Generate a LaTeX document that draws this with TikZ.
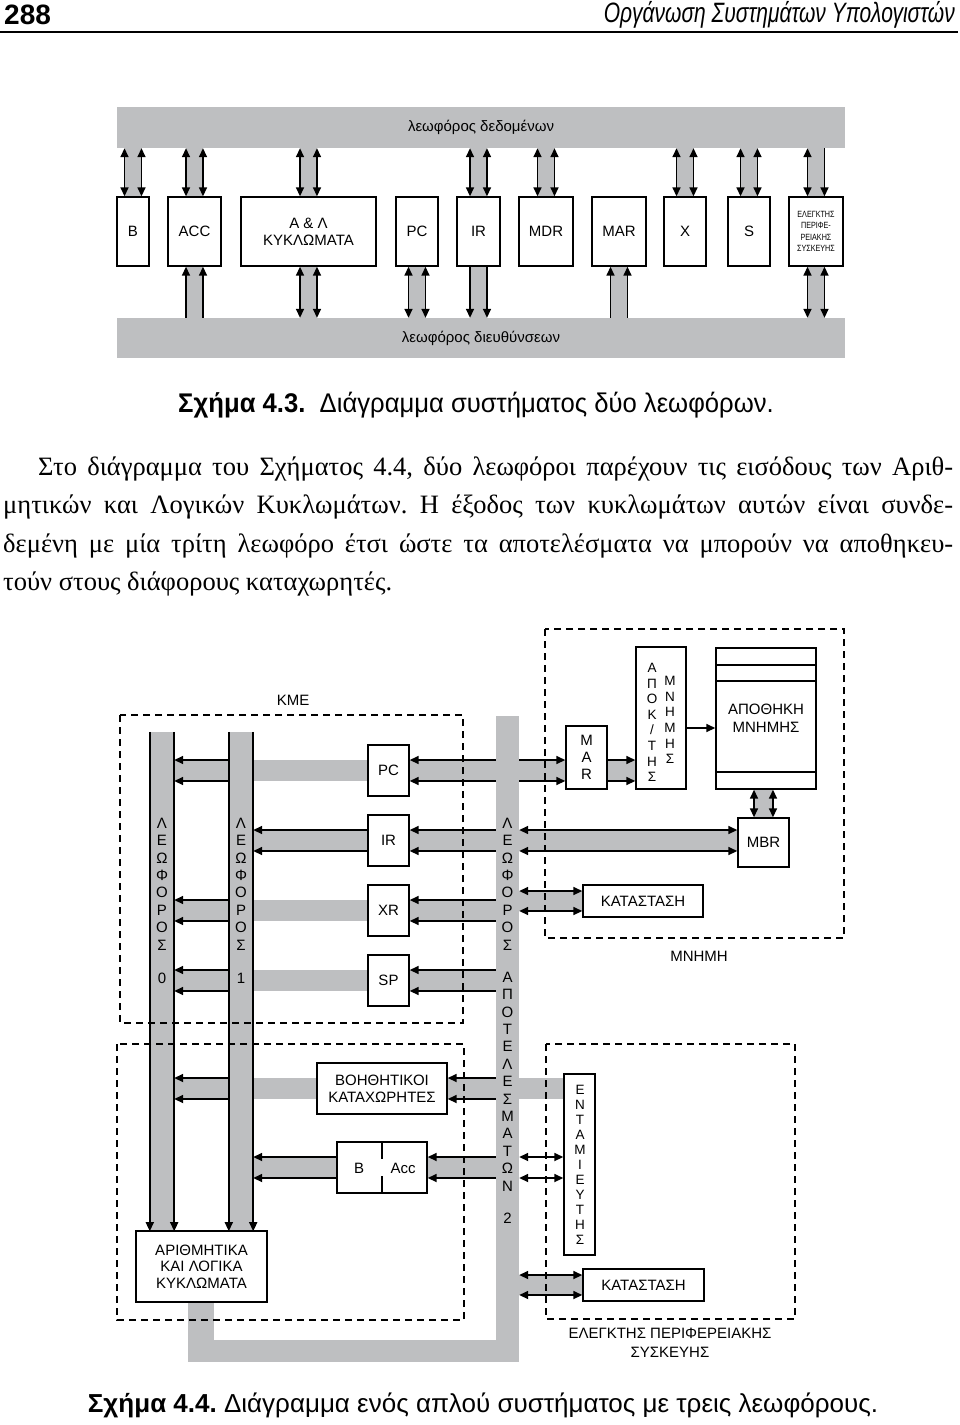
\documentclass[tikz,border=0pt]{standalone}
\usepackage{fontspec}
\setmainfont{Liberation Serif}
\setsansfont{Liberation Sans}
\usetikzlibrary{arrows.meta, calc, backgrounds}
\definecolor{busgray}{RGB}{190,191,193}
\newcommand{\figfont}{\sffamily\fontsize{15}{17}\selectfont}
\newcommand{\stackfont}{\sffamily\fontsize{15}{17.4}\selectfont}
\newcommand{\apokfont}{\sffamily\fontsize{13.5}{15.6}\selectfont}
\newcommand{\bodyfont}{\rmfamily\fontsize{26.5}{30}\selectfont}
\frenchspacing
\tikzset{
	regbox/.style={rectangle, draw=black, fill=white, line width=1.4pt, inner sep=0pt, align=center, font=\figfont},
	busbar/.style={rectangle, fill=busgray, inner sep=0pt},
	wire/.style={line width=1.6pt, draw=black},
	dashframe/.style={draw=black, line width=1.4pt, dash pattern=on 7pt off 5pt},
	stacklabel/.style={inner sep=0pt, align=center, font=\stackfont},
	plain/.style={inner sep=0pt, align=center, font=\figfont},
}

\begin{document}
\begin{tikzpicture}[x=1pt, y=-1pt, >={Triangle[length=9pt,width=8pt]}]
	\useasboundingbox (0,0) rectangle (960,1425);
	\begin{scope}[on background layer]
		\fill[white] (0,0) rectangle (960,1425);
	\end{scope}
	% page head
	\node[anchor=west, inner sep=0pt, font=\sffamily\bfseries\fontsize{28}{30}\selectfont] (pagenum) at (4,15) {288};
	\node[anchor=east, inner sep=0pt, font=\sffamily\itshape\fontsize{28}{30}\selectfont] (runhead) at (955,15) {\scalebox{0.75}[1]{Οργάνωση Συστημάτων Υπολογιστών}};
	\draw[line width=2pt] (0,32) -- (958,32);

	% figure 4.3
	\node[busbar, minimum width=728pt, minimum height=41pt, font=\figfont] (dbus) at (481,127.5) {λεωφόρος δεδομένων};
	\node[busbar, minimum width=728pt, minimum height=40pt, font=\figfont] (abus) at (481,338) {λεωφόρος διευθύνσεων};
	\node[regbox, minimum width=32pt, minimum height=69pt] (b1) at (133,231.5) {B};
	\node[regbox, minimum width=53pt, minimum height=69pt] (acc1) at (194.5,231.5) {ACC};
	\node[regbox, minimum width=135pt, minimum height=69pt] (alu1) at (308.5,231.5) {Α \& Λ\\ΚΥΚΛΩΜΑΤΑ};
	\node[regbox, minimum width=42pt, minimum height=69pt] (pc1) at (417,231.5) {PC};
	\node[regbox, minimum width=43pt, minimum height=69pt] (ir1) at (478.5,231.5) {IR};
	\node[regbox, minimum width=54pt, minimum height=69pt] (mdr1) at (546,231.5) {MDR};
	\node[regbox, minimum width=54pt, minimum height=69pt] (mar1) at (619,231.5) {MAR};
	\node[regbox, minimum width=42pt, minimum height=69pt] (x1) at (685,231.5) {X};
	\node[regbox, minimum width=42pt, minimum height=69pt] (s1) at (749,231.5) {S};
	\node[regbox, minimum width=54pt, minimum height=69pt, font=\sffamily\fontsize{9}{11.5}\selectfont] (el1) at (816,231.5) {\scalebox{0.8}[1]{ΕΛΕΓΚΤΗΣ}\\\scalebox{0.8}[1]{ΠΕΡΙΦΕ-}\\\scalebox{0.8}[1]{ΡΕΙΑΚΗΣ}\\\scalebox{0.8}[1]{ΣΥΣΚΕΥΗΣ}};
	\foreach \n in {b1,acc1,alu1,pc1,ir1,mdr1,mar1,x1,s1,el1}{
		\path (\n.north) ++(-8.5,0) coordinate (\n-nl) (\n.north) ++(8.5,0) coordinate (\n-nr)
			(\n.south) ++(-8.5,0) coordinate (\n-sl) (\n.south) ++(8.5,0) coordinate (\n-sr);
	}
	\begin{scope}[on background layer]
		\foreach \n in {b1,acc1,alu1,ir1,mdr1,x1,s1,el1}{\fill[busgray] (\n-nl) rectangle (\n-nr |- dbus.south);}
		\foreach \n in {acc1,alu1,pc1,ir1,mar1,el1}{\fill[busgray] (\n-sl) rectangle (\n-sr |- abus.north);}
	\end{scope}
	\foreach \n in {b1,acc1,alu1,ir1,mdr1,x1,s1}{
		\draw[wire,<->] (\n-nl) -- (\n-nl |- dbus.south);
		\draw[wire,<->] (\n-nr) -- (\n-nr |- dbus.south);
	}
	\draw[wire,<->] (el1-nl) -- (el1-nl |- dbus.south);
	\draw[wire,<-] (el1-nr) -- (el1-nr |- dbus.south);
	\foreach \n/\t in {acc1/<-, alu1/<->, pc1/<->, ir1/->, mar1/<-, el1/<->}{
		\draw[wire,\t] (\n-sl) -- (\n-sl |- abus.north);
		\draw[wire,\t] (\n-sr) -- (\n-sr |- abus.north);
	}
	\node[font=\sffamily\fontsize{27}{30}\selectfont, inner sep=0pt] (cap1) at (476,405) {\scalebox{0.95}[1]{\textbf{Σχήμα 4.3.}\ \ Διάγραμμα συστήματος δύο λεωφόρων.}};

	% text
	\node[anchor=base west, inner sep=0pt, font=\bodyfont] (par1) at (38,475) {\makebox[915pt][s]{Στο διάγραμμα του Σχήματος 4.4, δύο λεωφόροι παρέχουν τις εισόδους των Αριθ-}};
	\node[anchor=base west, inner sep=0pt, font=\bodyfont] (par2) at (3,513.5) {\makebox[950pt][s]{μητικών και Λογικών Κυκλωμάτων. Η έξοδος των κυκλωμάτων αυτών είναι συνδε-}};
	\node[anchor=base west, inner sep=0pt, font=\bodyfont] (par3) at (3,552) {\makebox[950pt][s]{δεμένη με μία τρίτη λεωφόρο έτσι ώστε τα αποτελέσματα να μπορούν να αποθηκευ-}};
	\node[anchor=base west, inner sep=0pt, font=\bodyfont] (par4) at (3,590.5) {τούν στους διάφορους καταχωρητές.};

	% figure 4.4
	\node[busbar, minimum width=24pt, minimum height=499pt] (bus0) at (162,981.5) {};
	\node[busbar, minimum width=24pt, minimum height=499pt] (bus1) at (241,981.5) {};
	\node[busbar, minimum width=23pt, minimum height=646pt] (bus2) at (507.5,1039) {};
	\node[regbox, minimum width=41pt, minimum height=51pt] (pc2) at (388.5,770.5) {PC};
	\node[regbox, minimum width=41pt, minimum height=51pt] (ir2) at (388.5,840.5) {IR};
	\node[regbox, minimum width=41pt, minimum height=51pt] (xr2) at (388.5,910.5) {XR};
	\node[regbox, minimum width=41pt, minimum height=51pt] (sp2) at (388.5,980.5) {SP};
	\node[regbox, minimum width=130pt, minimum height=51pt] (aux) at (382,1088.5) {ΒΟΗΘΗΤΙΚΟΙ\\ΚΑΤΑΧΩΡΗΤΕΣ};
	\node[regbox, minimum width=90pt, minimum height=51pt] (bacc) at (382,1167.5) {};
	\node[plain] (bacc-b) at (359,1168) {B};
	\node[plain] (bacc-acc) at (403,1168) {Acc};
	\node[regbox, minimum width=131pt, minimum height=71pt, font=\sffamily\fontsize{15}{16.7}\selectfont] (alu2) at (201.5,1266.5) {ΑΡΙΘΜΗΤΙΚΑ\\ΚΑΙ ΛΟΓΙΚΑ\\ΚΥΚΛΩΜΑΤΑ};
	\node[regbox, minimum width=41pt, minimum height=63pt, font=\sffamily\fontsize{15}{17}\selectfont] (mar2) at (586.5,757.5) {M\\A\\R};
	\node[regbox, minimum width=50pt, minimum height=142pt] (apok) at (661,718) {};
	\node[stacklabel, font=\apokfont] (apok-l) at (652,722.5) {Α\\Π\\Ο\\Κ\\/\\Τ\\Η\\Σ};
	\node[stacklabel, font=\apokfont] (apok-r) at (670,720) {Μ\\Ν\\Η\\Μ\\Η\\Σ};
	\node[regbox, minimum width=100pt, minimum height=141pt, font=\sffamily\fontsize{15}{18}\selectfont] (store) at (766,718.5) {ΑΠΟΘΗΚΗ\\ΜΝΗΜΗΣ};
	\node[regbox, minimum width=51pt, minimum height=49pt] (mbr) at (763.5,842.5) {MBR};
	\node[regbox, minimum width=120pt, minimum height=32pt] (statm) at (643,901) {ΚΑΤΑΣΤΑΣΗ};
	\node[regbox, minimum width=31pt, minimum height=181pt] (entam) at (579.5,1164.5) {};
	\node[stacklabel, font=\sffamily\fontsize{13.5}{15}\selectfont] (entam-l) at (580,1164.5) {Ε\\Ν\\Τ\\Α\\Μ\\Ι\\Ε\\Υ\\Τ\\Η\\Σ};
	\node[regbox, minimum width=121pt, minimum height=32pt] (statp) at (643.5,1285) {ΚΑΤΑΣΤΑΣΗ};

	% bus names
	\node[stacklabel] (bus0-l) at (162,884) {Λ\\Ε\\Ω\\Φ\\Ο\\Ρ\\Ο\\Σ};
	\node[stacklabel] (bus1-l) at (241,884) {Λ\\Ε\\Ω\\Φ\\Ο\\Ρ\\Ο\\Σ};
	\node[stacklabel] (bus2-l) at (507.5,884) {Λ\\Ε\\Ω\\Φ\\Ο\\Ρ\\Ο\\Σ};
	\node[stacklabel] (bus2-m) at (507.5,1081.5) {Α\\Π\\Ο\\Τ\\Ε\\Λ\\Ε\\Σ\\Μ\\Α\\Τ\\Ω\\Ν};
	\node[plain] (bus0-n) at (162,978) {0};
	\node[plain] (bus1-n) at (241,978) {1};
	\node[plain] (bus2-n) at (507.5,1218) {2};

	\foreach \r in {pc2,ir2,xr2,sp2,aux,bacc}{
		\path (\r.center) ++(0,-10.5) coordinate (\r-a) (\r.center) ++(0,10.5) coordinate (\r-b);
	}
	\foreach \r in {statm,statp}{
		\path (\r.center) ++(0,-10) coordinate (\r-a) (\r.center) ++(0,10) coordinate (\r-b);
	}
	\path (mbr.north) ++(-9.5,0) coordinate (mbr-l) (mbr.north) ++(9.5,0) coordinate (mbr-r);

	\begin{scope}[on background layer]
		\foreach \r in {pc2,ir2,xr2,sp2,aux,bacc}{\fill[busgray] (\r.east |- \r-a) rectangle (bus2.west |- \r-b);}
		\foreach \r in {pc2,xr2,sp2,aux}{\fill[busgray] (bus0.east |- \r-a) rectangle (\r.west |- \r-b);}
		\foreach \r in {ir2,bacc}{\fill[busgray] (bus1.east |- \r-a) rectangle (\r.west |- \r-b);}
		\fill[busgray] (bus2.east |- pc2-a) rectangle (apok.west |- pc2-b);
		\fill[busgray] (bus2.east |- ir2-a) rectangle (mbr.west |- ir2-b);
		\fill[busgray] (bus2.east |- statm-a) rectangle (statm.west |- statm-b);
		\fill[busgray] (bus2.east |- aux-a) rectangle (entam.west |- aux-b);
		\fill[busgray] (bus2.east |- statp-a) rectangle (statp.west |- statp-b);
		\fill[busgray] (mbr-l |- store.south) rectangle (mbr-r);
		% output of the ALU onto bus 2
		\fill[busgray] (alu2.south -| 188,0) rectangle (214,1362);
		\fill[busgray] (188,1340) rectangle (bus2.south east);
	\end{scope}

	\foreach \b in {bus0,bus1}{
		\draw[wire,->] (\b.north west) -- (\b.south west);
		\draw[wire,->] (\b.north east) -- (\b.south east);
	}
	\foreach \r in {pc2,ir2,xr2,sp2,aux,bacc}{
		\draw[wire,->] (bus2.west |- \r-a) -- (\r.east |- \r-a);
		\draw[wire,->] (bus2.west |- \r-b) -- (\r.east |- \r-b);
	}
	\foreach \r in {pc2,xr2,sp2,aux}{
		\draw[wire,->] (bus1.west |- \r-a) -- (bus0.east |- \r-a);
		\draw[wire,->] (bus1.west |- \r-b) -- (bus0.east |- \r-b);
	}
	\foreach \r in {ir2,bacc}{
		\draw[wire,->] (\r.west |- \r-a) -- (bus1.east |- \r-a);
		\draw[wire,->] (\r.west |- \r-b) -- (bus1.east |- \r-b);
	}
	\foreach \c in {pc2-a,pc2-b}{
		\draw[wire,->] (bus2.east |- \c) -- (mar2.west |- \c);
		\draw[wire,->] (mar2.east |- \c) -- (apok.west |- \c);
	}
	\foreach \c in {ir2-a,ir2-b}{\draw[wire,<->] (bus2.east |- \c) -- (mbr.west |- \c);}
	\foreach \c in {statm-a,statm-b}{\draw[wire,<->] (bus2.east |- \c) -- (statm.west |- \c);}
	\foreach \c in {bacc-a,bacc-b}{\draw[wire,<->] (bus2.east |- \c) -- (entam.west |- \c);}
	\foreach \c in {statp-a,statp-b}{\draw[wire,<->] (bus2.east |- \c) -- (statp.west |- \c);}
	\draw[wire,<->] (mbr-l) -- (mbr-l |- store.south);
	\draw[wire,<->] (mbr-r) -- (mbr-r |- store.south);
	\draw[wire,->] (apok.east |- 0,728) -- (store.west |- 0,728);

	% details inside boxes
	\foreach \y in {665,681,772}{\draw[line width=1.4pt] (store.west |- 0,\y) -- (store.east |- 0,\y);}
	\draw[line width=1.4pt] (bacc.north) -- ++(0,18);
	\draw[line width=1.4pt] (bacc.south) -- ++(0,-18);

	% dashed units
	\draw[dashframe] (120,715) rectangle (463,1023);
	\draw[dashframe] (117,1044) rectangle (464,1320);
	\draw[dashframe] (545,629) rectangle (844,938);
	\draw[dashframe] (546,1044) rectangle (795,1319);
	\node[plain] (kme) at (293,700) {ΚΜΕ};
	\node[plain] (mem) at (699,956) {ΜΝΗΜΗ};
	\node[plain, font=\sffamily\fontsize{15}{19}\selectfont] (ctrl) at (670,1342.5) {ΕΛΕΓΚΤΗΣ ΠΕΡΙΦΕΡΕΙΑΚΗΣ\\ΣΥΣΚΕΥΗΣ};

	\node[font=\sffamily\fontsize{26}{30}\selectfont, inner sep=0pt] (cap2) at (483,1405) {\textbf{Σχήμα 4.4.} Διάγραμμα ενός απλού συστήματος με τρεις λεωφόρους.};
\end{tikzpicture}
\end{document}
